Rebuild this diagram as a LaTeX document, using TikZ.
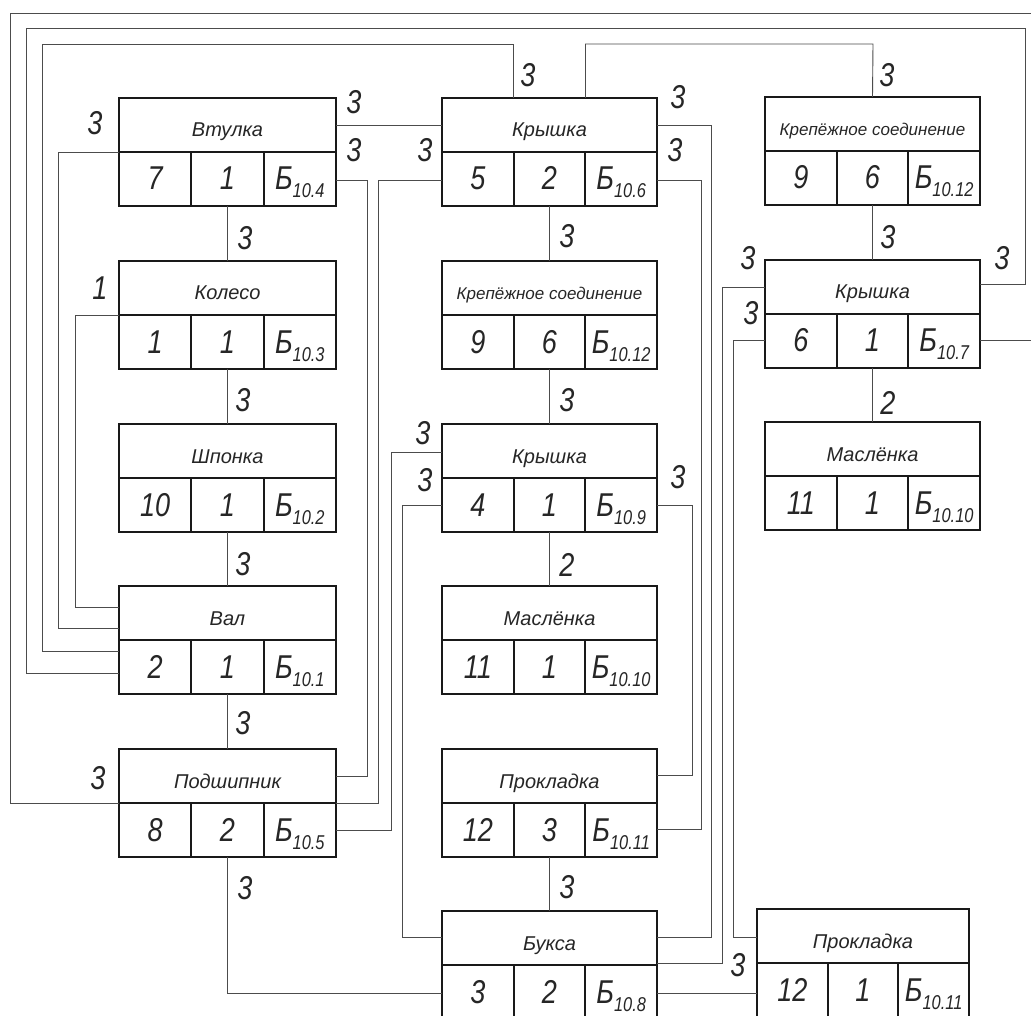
\documentclass[tikz,border=0pt]{standalone}
\usepackage{fontspec}
\newfontfamily\gtitle{Liberation Sans}
\newfontfamily\gnum[FakeStretch=0.82]{Liberation Sans}
\usetikzlibrary{calc}
\tikzset{
  blk/.style={draw=black!90, line width=2pt, rectangle, inner sep=0pt, outer sep=0pt, minimum height=108pt},
  divl/.style={draw=black!90, line width=2pt},
  wire/.style={draw=black!70, line width=0.9pt},
  ttl/.style={font=\gtitle\itshape\fontsize{20}{20}\selectfont, text=black!85, inner sep=0pt, anchor=base},
  num/.style={font=\gnum\itshape\fontsize{33}{33}\selectfont, text=black!85, inner sep=0pt, anchor=base},
  lbl/.style={font=\gnum\itshape\fontsize{33}{33}\selectfont, text=black!85, inner sep=0pt}
}
\newcommand\asm[8]{%
  \node[blk, minimum width=#4pt, anchor=north west] (#1) at (#2,#3) {};
  \draw[divl] (#1.west) -- (#1.east);
  \draw[divl] ($(#1.west)!1/3!(#1.east)$) -- ($(#1.south west)!1/3!(#1.south east)$);
  \draw[divl] ($(#1.west)!2/3!(#1.east)$) -- ($(#1.south west)!2/3!(#1.south east)$);
  \node[ttl] (#1t) at ($(#1.north)+(0,39)$) {#5};
  \node[num] (#1a) at ($(#1.south west)!1/6!(#1.south east)+(0,-16)$) {#6};
  \node[num] (#1b) at ($(#1.south west)!1/2!(#1.south east)+(0,-16)$) {#7};
  \node[num] (#1c) at ($(#1.south west)!5/6!(#1.south east)+(0,-16)$) {Б\raisebox{-8pt}{\fontsize{20}{20}\selectfont #8}};
}
\begin{document}
\begin{tikzpicture}[x=1pt,y=-1pt]
\useasboundingbox[fill=white] (0,0) rectangle (1031,1016);

% left column
\asm{vt}{119}{98}{217}{Втулка}{7}{1}{10.4}
\asm{kol}{119}{261}{217}{Колесо}{1}{1}{10.3}
\asm{shp}{119}{424}{217}{Шпонка}{10}{1}{10.2}
\asm{val}{119}{586}{217}{Вал}{2}{1}{10.1}
\asm{pod}{119}{749}{217}{Подшипник}{8}{2}{10.5}
% center column
\asm{kra}{442}{98}{215}{Крышка}{5}{2}{10.6}
\asm{krepa}{442}{261}{215}{\fontsize{17}{17}\selectfont Крепёжное соединение}{9}{6}{10.12}
\asm{krb}{442}{424}{215}{Крышка}{4}{1}{10.9}
\asm{masla}{442}{586}{215}{Маслёнка}{11}{1}{10.10}
\asm{proka}{442}{749}{215}{Прокладка}{12}{3}{10.11}
\asm{buks}{442}{911}{215}{Букса}{3}{2}{10.8}
% right column
\asm{krepb}{765}{97}{215}{\fontsize{17}{17}\selectfont Крепёжное соединение}{9}{6}{10.12}
\asm{krc}{765}{260}{215}{Крышка}{6}{1}{10.7}
\asm{maslb}{765}{422}{215}{Маслёнка}{11}{1}{10.10}
\asm{prokb}{757}{909}{212}{Прокладка}{12}{1}{10.11}

\coordinate (kraL) at ([xshift=-36pt]kra.north);
\coordinate (kraR) at ([xshift=36pt]kra.north);

% vertical chains
\draw[wire] (vt.south) -- (kol.north);
\draw[wire] (kol.south) -- (shp.north);
\draw[wire] (shp.south) -- (val.north);
\draw[wire] (val.south) -- (pod.north);
\draw[wire] (kra.south) -- (krepa.north);
\draw[wire] (krepa.south) -- (krb.north);
\draw[wire] (krb.south) -- (masla.north);
\draw[wire] (proka.south) -- (buks.north);
\draw[wire] (krepb.south) -- (krc.north);
\draw[wire] (krc.south) -- (maslb.north);

% routed connectors
\draw[wire] (pod.south) |- ([yshift=-82pt]buks.north west);
\draw[wire] (kol.west) -| (75,607) -- ([yshift=-21pt]val.north west);
\draw[wire] (vt.west) -| (58,628) -- ([yshift=-42pt]val.north west);
\draw[wire] ([yshift=-65pt]val.north west) -| (42,44) -| (kraL);
\draw[wire] ([yshift=-87pt]val.north west) -| (26,28) -| (1025,284) -- ([yshift=-24pt]krc.north east);
\draw[wire] (pod.west) -| (10,13) -| (1045,340) -- ([yshift=-80pt]krc.north east);
\draw[wire] ([yshift=-27pt]vt.north east) -- ([yshift=-27pt]kra.north west);
\draw[wire] ([yshift=-82pt]vt.north east) -| (367,776) -- ([yshift=-27pt]pod.north east);
\draw[wire] ([yshift=-82pt]kra.north west) -| (378,803) -- (pod.east);
\draw[wire] ([yshift=-81pt]pod.north east) -| (391,452) -- ([yshift=-28pt]krb.north west);
\draw[wire] ([yshift=-81pt]krb.north west) -| (402,937) -- ([yshift=-26pt]buks.north west);
\draw[wire] (kraR) |- (873,44) -- (krepb.north);
\draw[wire] ([yshift=-27pt]kra.north east) -| (711,937) -- ([yshift=-26pt]buks.north east);
\draw[wire] ([yshift=-82pt]kra.north east) -| (701,829) -- ([yshift=-80pt]proka.north east);
\draw[wire] ([yshift=-81pt]krb.north east) -| (692,775) -- ([yshift=-26pt]proka.north east);
\draw[wire] ([yshift=-27pt]krc.north west) -| (722,963) -- ([yshift=-52pt]buks.north east);
\draw[wire] ([yshift=-80pt]krc.north west) -| (733,937) -- ([yshift=-28pt]prokb.north west);
\draw[wire] ([yshift=-82pt]buks.north east) -- ([yshift=-84pt]prokb.north west);

% labels
\node[lbl] (q1) at (95,123) {3};
\node[lbl] (q2) at (354,102) {3};
\node[lbl] (q3) at (354,150) {3};
\node[lbl] (q4) at (245,238) {3};
\node[lbl] (q5) at (100,288) {1};
\node[lbl] (q6) at (243,400) {3};
\node[lbl] (q7) at (243,564) {3};
\node[lbl] (q8) at (243,723) {3};
\node[lbl] (q9) at (98,778) {3};
\node[lbl] (q10) at (245,888) {3};
\node[lbl] (q11) at (528,75) {3};
\node[lbl] (q12) at (425,150) {3};
\node[lbl] (q13) at (678,97) {3};
\node[lbl] (q14) at (675,150) {3};
\node[lbl] (q15) at (567,236) {3};
\node[lbl] (q16) at (567,400) {3};
\node[lbl] (q17) at (423,433) {3};
\node[lbl] (q18) at (425,480) {3};
\node[lbl] (q19) at (678,477) {3};
\node[lbl] (q20) at (567,565) {2};
\node[lbl] (q21) at (567,887) {3};
\node[lbl] (q22) at (887,75) {3};
\node[lbl] (q23) at (888,237) {3};
\node[lbl] (q24) at (748,258) {3};
\node[lbl] (q25) at (751,313) {3};
\node[lbl] (q26) at (1002,258) {3};
\node[lbl] (q27) at (888,403) {2};
\node[lbl] (q28) at (738,965) {3};
\end{tikzpicture}
\end{document}
